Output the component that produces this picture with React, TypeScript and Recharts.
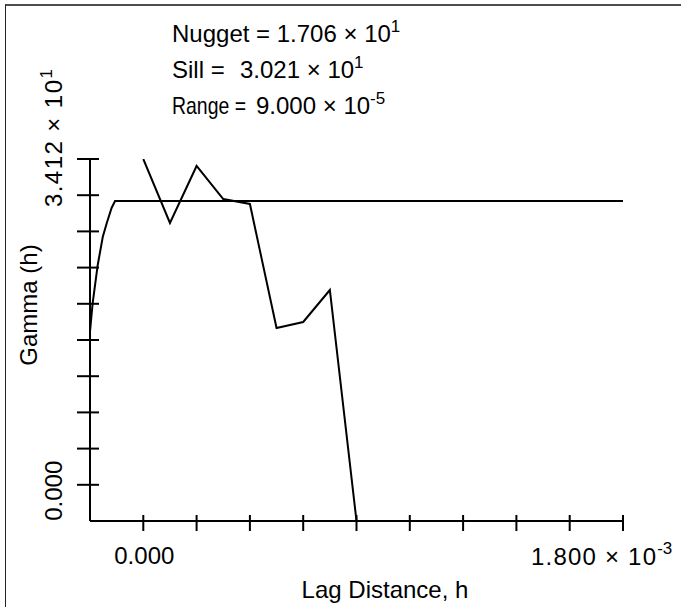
import { LineChart, Line, XAxis, YAxis } from "recharts";

// experimental variogram (lag, gamma)
const lagExp = [0, 0.0001, 0.0002, 0.0003, 0.0004, 0.0005, 0.0006, 0.0007, 0.0008];
const gammaExp = [34.12, 27.42, 33.39, 29.93, 29.41, 16.42, 17.05, 20.4, -3.79];

// fitted model curve
const lagModel = [-0.0002, -0.00019, -0.000171, -0.000152, -0.000137, -0.000119, -0.000106, 0.0018];
const gammaModel = [16.03, 19.04, 23.02, 25.98, 27.42, 28.99, 29.72, 29.72];

const xTicks = [0, 0.0002, 0.0004, 0.0006, 0.0008, 0.001, 0.0012, 0.0014, 0.0016, 0.0018];
const yTicks = [0, 3.791, 7.582, 11.373, 15.164, 18.956, 22.747, 26.538, 30.329, 34.12];

const expData = lagExp.map((h, i) => ({ h, g: gammaExp[i] }));
const modelData = lagModel.map((h, i) => ({ h, g: gammaModel[i] }));

const FONT = "'Liberation Sans', Arial, sans-serif";
const INK = "#000";
const AXIS_X = 90;
const AXIS_Y = 521;

function YTick(props: any) {
  const { y, payload } = props;
  const v = payload.value;
  const x = AXIS_X;
  return (
    <g>
      <line x1={x - 13} x2={x + 9} y1={y} y2={y} stroke={INK} strokeWidth={2} />
      {v === 0 && (
        <text
          x={x - 28}
          y={y + 6}
          transform={`rotate(-90, ${x - 28}, ${y + 6})`}
          textAnchor="middle"
          fontFamily={FONT}
          fontSize={24}
          fill={INK}
        >
          0.000
        </text>
      )}
      {v === 34.12 && (
        <text
          x={x - 28}
          y={y + 48}
          transform={`rotate(-90, ${x - 28}, ${y + 48})`}
          textAnchor="start"
          fontFamily={FONT}
          fontSize={24}
          fill={INK}
        >
          <tspan textLength={127} lengthAdjust="spacing">3.412 × 10</tspan>
          <tspan dy={-10} fontSize={17}>1</tspan>
        </text>
      )}
    </g>
  );
}

function XTick(props: any) {
  const { x, payload } = props;
  const v = payload.value;
  const y = AXIS_Y;
  return (
    <g>
      <line x1={x} x2={x} y1={y - 6} y2={y + 10} stroke={INK} strokeWidth={2} />
      {v === 0 && (
        <text x={x + 1} y={y + 43} textAnchor="middle" fontFamily={FONT} fontSize={24} fill={INK}>
          0.000
        </text>
      )}
      {v === 0.0018 && (
        <text x={531} y={y + 44} fontFamily={FONT} fontSize={24} fill={INK}>
          <tspan textLength={125} lengthAdjust="spacing">1.800 × 10</tspan>
          <tspan dy={-11} fontSize={17}>-3</tspan>
        </text>
      )}
    </g>
  );
}

export default function App() {
  return (
    <div style={{ position: "absolute", left: 0, top: 0, width: 681, height: 607 }}>
      <div
        style={{
          position: "absolute",
          left: 5,
          top: 4,
          width: 676,
          height: 603,
          boxSizing: "border-box",
          borderTop: "2px solid #4d4d4d",
          borderLeft: "1px solid #222",
        }}
      />
      <LineChart
        width={681}
        height={607}
        margin={{ top: 159, right: 58, bottom: 56, left: 30 }}
        style={{ position: "absolute", left: 0, top: 0 }}
      >
        <XAxis
          type="number"
          dataKey="h"
          domain={[-0.0002, 0.0018]}
          ticks={xTicks}
          allowDataOverflow
          height={30}
          tickSize={0}
          tickMargin={0}
          tickLine={false}
          axisLine={{ stroke: INK, strokeWidth: 2 }}
          tick={<XTick />}
          interval={0}
        />
        <YAxis
          type="number"
          dataKey="g"
          domain={[-3.791, 34.12]}
          ticks={yTicks}
          allowDataOverflow
          width={60}
          tickSize={0}
          tickMargin={0}
          tickLine={false}
          axisLine={{ stroke: INK, strokeWidth: 2 }}
          tick={<YTick />}
          interval={0}
        />
        <Line
          data={modelData}
          dataKey="g"
          type="linear"
          stroke={INK}
          strokeWidth={2}
          dot={false}
          isAnimationActive={false}
        />
        <Line
          data={expData}
          dataKey="g"
          type="linear"
          stroke={INK}
          strokeWidth={2}
          dot={false}
          isAnimationActive={false}
        />
        <text x={172} y={42} fontFamily={FONT} fontSize={24} fill={INK}>
          Nugget = 1.706 × 10
          <tspan dy={-10} fontSize={17}>1</tspan>
        </text>
        <text x={172} y={78} fontFamily={FONT} fontSize={24} fill={INK}>
          Sill =
          <tspan x={240}>3.021 × 10</tspan>
          <tspan dy={-10} fontSize={17}>1</tspan>
        </text>
        <text x={172} y={114} fontFamily={FONT} fontSize={24} fill={INK}>
          <tspan textLength={74} lengthAdjust="spacingAndGlyphs">Range =</tspan>
          <tspan x={256}>9.000 × 10</tspan>
          <tspan dy={-10} fontSize={17}>-5</tspan>
        </text>
        <text
          x={37}
          y={305}
          transform="rotate(-90, 37, 305)"
          textAnchor="middle"
          fontFamily={FONT}
          fontSize={24}
          fill={INK}
        >
          Gamma (h)
        </text>
        <text x={385} y={598} textAnchor="middle" fontFamily={FONT} fontSize={24} fill={INK}>
          Lag Distance, h
        </text>
      </LineChart>
    </div>
  );
}
